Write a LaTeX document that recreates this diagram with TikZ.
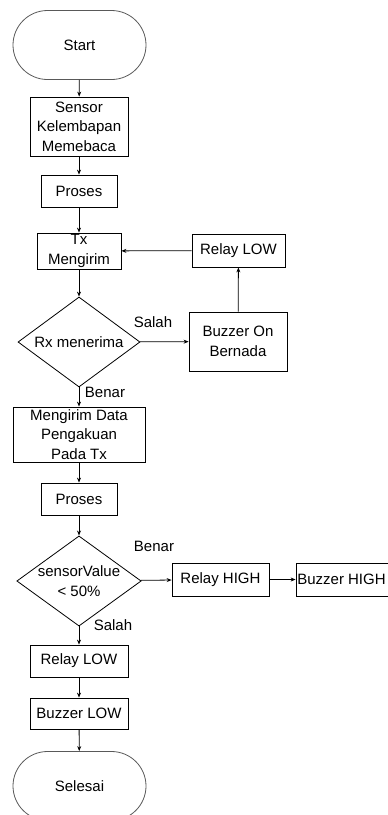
\documentclass[tikz,border=0pt]{standalone}
\usepackage{fontspec}
\setmainfont{Liberation Sans}
\usepackage{tikz}
\usetikzlibrary{
    shapes.geometric,
    shapes.misc,
    arrows.meta,
    positioning
}
\tikzstyle{arrow} = [
    line width=0.8pt,
    -{Stealth[length=5pt,width=4pt]}
]
\tikzstyle{terminal} = [
    draw=black!65,
    line width=0.8pt,
    rounded rectangle,
    minimum width=133pt,
    minimum height=69pt,
    inner sep=0pt
]
\tikzstyle{proc} = [
    draw,
    line width=0.8pt,
    rectangle,
    align=center,
    inner sep=0pt
]
\tikzstyle{decision} = [
    draw,
    line width=0.8pt,
    diamond,
    aspect=1.38,
    align=center,
    inner sep=0pt,
    minimum width=122pt,
    minimum height=90pt
]

\begin{document}
\begin{tikzpicture}[x=1pt,y=-1pt,font=\fontsize{15}{19.5}\selectfont]
\useasboundingbox (0,0) rectangle (388,815);
\node[terminal] (start) at (79.5,45) {Start};
\node[proc, minimum width=98pt, minimum height=59pt] (sensor) at (79,126.5) {Sensor\\Kelembapan\\Memebaca};
\node[proc, minimum width=76pt, minimum height=32pt] (proses) at (79,191) {Proses};
\node[proc, minimum width=84pt, minimum height=36pt] (tx) at (79,251) {Tx\\Mengirim};
\node[proc, minimum width=93pt, minimum height=33pt] (relaylow) at (238.5,250.5) {Relay LOW};
\node[decision] (rx) at (79,342) {Rx menerima};
\node[proc, minimum width=98pt, minimum height=59pt] (buzzeron) at (238,341.5) {Buzzer On\\Bernada};
\node[proc, minimum width=132pt, minimum height=55pt] (ack) at (79,434.5) {Mengirim Data\\Pengakuan\\Pada Tx};
\node[proc, minimum width=76pt, minimum height=32pt] (proses2) at (79,499) {Proses};
\node[decision, minimum width=124pt] (cek) at (79,581) {sensorValue\\< 50\%};
\node[proc, minimum width=97pt, minimum height=33pt] (relayhigh) at (220.5,579.5) {Relay HIGH};
\node[proc, minimum width=100pt, minimum height=33pt] (buzzerhigh) at (346,579.5) {Buzzer HIGH\hspace*{9pt}};
\node[proc, minimum width=98pt, minimum height=32pt] (relaylow2) at (79,661) {Relay LOW};
\node[proc, minimum width=98pt, minimum height=31pt] (buzzerlow) at (79,713.5) {Buzzer LOW};
\node[terminal] (selesai) at (79.5,786) {Selesai};

% label cabang
\node (salah1) at (153,322) {Salah};
\node (benar1) at (105,392) {Benar};
\node (benar2) at (154,546) {Benar};
\node (salah2) at (113,625) {Salah};

\draw[arrow] (start) -- (sensor);
\draw[arrow] (sensor) -- (proses);
\draw[arrow] (proses) -- (tx);
\draw[arrow] (tx) -- (rx);
\draw[arrow] (rx) -- (buzzeron);
\draw[arrow] (buzzeron) -- (relaylow);
\draw[arrow] (relaylow) -- (tx);
\draw[arrow] (rx) -- (ack);
\draw[arrow] (ack) -- (proses2);
\draw[arrow] (proses2) -- (cek);
\draw[arrow] (cek) -- (relayhigh);
\draw[arrow] (relayhigh) -- (buzzerhigh);
\draw[arrow] (cek) -- (relaylow2);
\draw[arrow] (relaylow2) -- (buzzerlow);
\draw[arrow] (buzzerlow) -- (selesai);
\end{tikzpicture}
\end{document}
